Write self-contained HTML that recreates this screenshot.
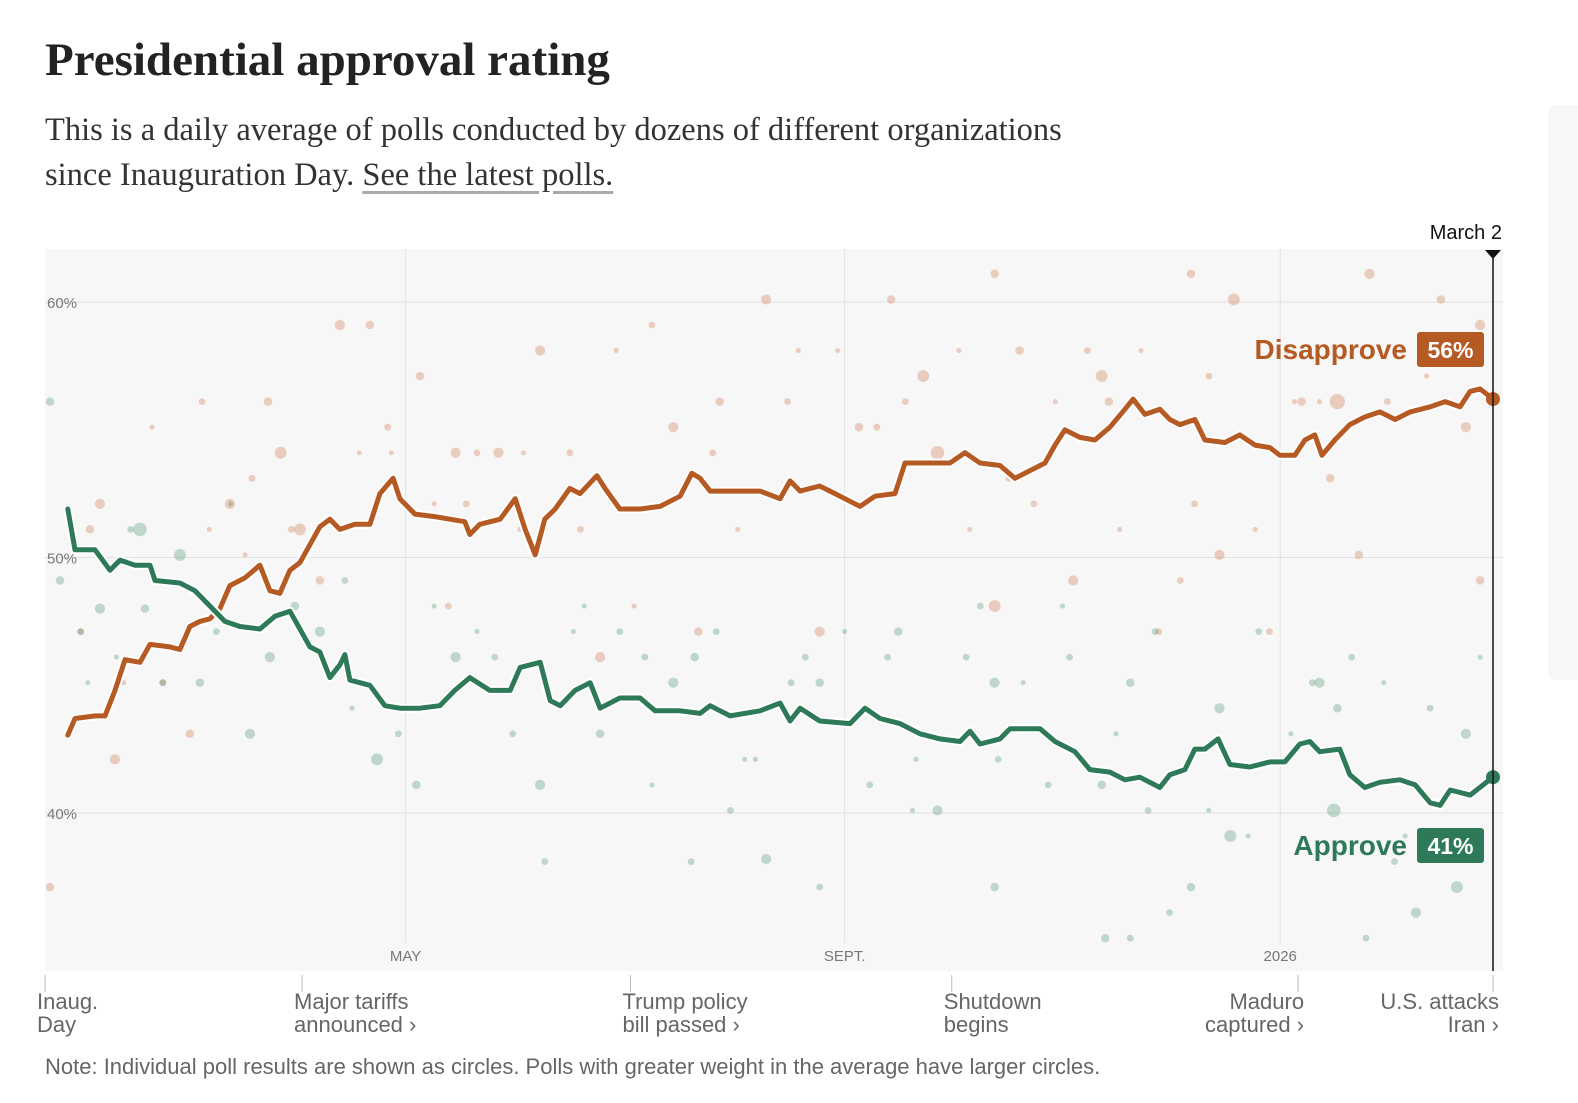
<!DOCTYPE html>
<html><head><meta charset="utf-8">
<style>
body{margin:0;width:1578px;height:1103px;background:#fff;position:relative;overflow:hidden;font-family:"Liberation Sans",sans-serif}
.t{position:absolute;margin:0}
</style></head><body>
<h1 class="t" style="left:45px;top:33px;font-family:'Liberation Serif',serif;font-weight:bold;font-size:47px;color:#222;letter-spacing:0px">Presidential approval rating</h1>
<p class="t" style="left:45px;top:108px;font-family:'Liberation Serif',serif;font-size:32.5px;line-height:45px;color:#333;width:1300px;white-space:nowrap">This is a daily average of polls conducted by dozens of different organizations<br>since Inauguration Day. <a style="color:#333;text-decoration:underline;text-decoration-color:#aaa;text-underline-offset:6px">See the latest polls.</a></p>
<div style="position:absolute;left:1548px;top:105px;width:40px;height:575px;background:#f7f7f7;border-radius:8px"></div>
<svg id="chart" width="1578" height="1103" style="position:absolute;left:0;top:0"></svg>
<p class="t" style="left:45px;top:1054px;font-size:22px;color:#666">Note: Individual poll results are shown as circles. Polls with greater weight in the average have larger circles.</p>
<script>
const approveDays=[6.4,8.4,14,18.2,21,25.2,29.4,30.8,37.8,42,46.2,50.4,54.6,60.2,64.4,68.6,71.4,74.2,77,79.8,82.6,84,85.4,91,95.2,99.4,105,110.6,114.8,119,124.6,130.3,133.1,138.7,141.5,144.3,148.5,152.7,155.5,161,166.7,170.9,177.9,183.5,186.3,191.9,200.3,205.9,208.7,211.5,217,225.5,229.7,233.9,239.5,245.1,250.7,256.3,259.1,261.9,267.5,270.3,278.7,282.9,288.5,292.7,298.3,302.5,306.7,312.3,315.1,319.3,322.1,324.9,328.6,331.9,337.5,343.1,347.3,351.5,354.3,357.1,362.7,365.5,369.7,373.9,379.5,383.8,388,390.8,393.6,399.2,405.6];
const approveValues=[51.9,50.3,50.3,49.5,49.9,49.7,49.7,49.1,49.0,48.7,48.1,47.5,47.3,47.2,47.7,47.9,47.2,46.5,46.3,45.3,45.8,46.2,45.2,45.0,44.2,44.1,44.1,44.2,44.8,45.3,44.8,44.8,45.7,45.9,44.4,44.2,44.8,45.1,44.1,44.5,44.5,44.0,44.0,43.9,44.2,43.8,44.0,44.3,43.6,44.1,43.6,43.5,44.1,43.7,43.5,43.1,42.9,42.8,43.2,42.7,42.9,43.3,43.3,42.8,42.4,41.7,41.6,41.3,41.4,41.0,41.5,41.7,42.5,42.5,42.9,41.9,41.8,42.0,42.0,42.7,42.8,42.4,42.5,41.5,41.0,41.2,41.3,41.1,40.4,40.3,40.9,40.7,41.4];
const disDays=[6.4,8.4,14,16.8,19.6,22.4,26.6,29.4,35,37.8,40.6,43.4,46.2,49,51.8,56,60.2,63,65.8,68.6,71.4,74.2,77,79.8,82.6,86.8,91,93.8,97.5,99.4,103.6,109.2,113.4,117.6,119,121.8,127.5,131.7,134.5,137.3,140,142.9,147,149.9,154.6,156.9,161,166.7,172.3,177.9,181.2,183.5,186.3,191.9,200.3,205.9,208.7,211.5,217,221.3,225.5,228.3,232.5,238.1,240.9,245.1,253.5,257.7,261.9,267.5,271.7,275.9,280.1,282.9,285.7,289.9,294.1,298.3,302.5,304.8,308.1,312.3,315.1,317.9,322.1,324.9,330.5,334.7,338.9,343.1,345.9,350.1,352.9,355.7,357.7,361.3,365.5,369.7,373.9,378.2,382.4,388,392.2,396.4,399.2,402,405.6];
const disValues=[43.05,43.7,43.8,43.8,44.8,46.0,45.9,46.6,46.5,46.4,47.3,47.5,47.6,48.0,48.9,49.2,49.7,48.7,48.6,49.5,49.8,50.5,51.2,51.5,51.1,51.3,51.3,52.5,53.1,52.3,51.7,51.6,51.5,51.4,50.9,51.3,51.5,52.3,51.1,50.1,51.5,51.9,52.7,52.5,53.2,52.7,51.9,51.9,52.0,52.4,53.3,53.1,52.6,52.6,52.6,52.3,53.0,52.6,52.8,52.5,52.2,52.0,52.4,52.5,53.7,53.7,53.7,54.1,53.7,53.6,53.1,53.4,53.7,54.4,55.0,54.7,54.6,55.1,55.8,56.2,55.6,55.8,55.4,55.2,55.4,54.6,54.5,54.8,54.4,54.3,54.0,54.0,54.6,54.8,54.0,54.6,55.2,55.5,55.7,55.4,55.7,55.9,56.1,55.9,56.5,56.6,56.2];
const approvePollDays=[26.6,37.8,15.4,28,63,77,93,104,115,138.7,176,182,202,217,239,250,266,296,304,329,332,357,361,384,395.5,398,362,321,281,266,231,155.5,192,57.4,43.4,4.2,1.4,297,304,370,378,140,181,217,315,267,10,20,33,48,70,86,99,121,131,148,161,170,188,196,209,224,236,244,258,274,287,300,311,326,340,349,366,375,388,402,12,24,52,84,109,126,151,168,199,213,243,262,285,309,337,355,381,393];
const approvePollValues=[51.1,50.1,48,48,46.1,47.1,42.1,41.1,46.1,41.1,45.1,46.1,38.2,45.1,47.1,40.1,45.1,41.1,45.1,44.1,39.1,45.1,40.1,36.1,37.1,43.1,44.1,37.1,41.1,37.1,41.1,43.1,40.1,43.1,45.1,49.1,56.1,35.1,35.1,35.1,38.1,38.1,38.1,37.1,36.1,42.1,47.1,46.1,45.1,47.1,48.1,44.1,43.1,47.1,43.1,47.1,47.1,41.1,47.1,42.1,45.1,47.1,46.1,42.1,46.1,45.1,46.1,43.1,47.1,40.1,47.1,43.1,46.1,45.1,44.1,46.1,45.1,51.1,52.1,49.1,48.1,46.1,48.1,46.1,42.1,46.1,40.1,48.1,48.1,40.1,39.1,45.1,39.1];
const approvePollWeights=[8,7,6,5,6,6,7,5,6,6,6,5,6,5,5,6,6,5,5,6,7,6,8,6,7,6,5,5,4,5,4,5,4,6,5,5,5,5,4,4,4,4,4,4,4,4,4,3,4,4,5,3,4,3,4,3,4,3,4,3,4,3,4,3,4,3,4,3,4,3,4,3,4,3,4,3,3,4,3,4,3,4,3,4,3,4,3,4,3,4,3,4,3];
const disPollDays=[82.6,91,138.7,202,246,296,333,362,398,402,66,115,127,176,250,273,321,266,371,71.4,51.8,15.4,12.6,329,288,266,318,217,155.5,183,402,19.6,40.6,1.4,343,360,352,298,228,189,237,391,105,62.5,312,113,77,368,10,22,33,46,58,88,96,109,121,133,147,160,170,194,208,222,241,256,270,283,292,307,326,339,348,357,380,394,30,44,56,69,97,118,134,150,165,187,211,233,259,277,301,322,350,376,387];
const disPollValues=[59.1,59.1,58.1,60.1,57.1,57.1,60.1,56.1,55.1,59.1,54.1,54.1,54.1,55.1,54.1,58.1,61.1,61.1,61.1,51.1,52.1,52.1,51.1,50.1,49.1,48.1,49.1,47.1,46.1,47.1,49.1,42.1,43.1,37.1,47.1,53.1,56.1,56.1,55.1,56.1,60.1,60.1,57.1,56.1,47.1,48.1,49.1,50.1,47.1,45.1,45.1,51.1,53.1,54.1,55.1,52.1,54.1,51.1,54.1,58.1,59.1,51.1,56.1,58.1,56.1,58.1,53.1,56.1,58.1,58.1,57.1,51.1,58.1,56.1,58.1,56.1,55.1,56.1,50.1,51.1,54.1,52.1,54.1,51.1,48.1,54.1,58.1,55.1,51.1,52.1,51.1,52.1,56.1,56.1,57.1];
const disPollWeights=[6,5,6,6,7,7,7,9,6,6,7,6,6,6,8,5,5,5,6,7,6,6,5,6,6,7,4,6,6,5,5,6,5,5,4,5,5,5,5,5,5,5,5,5,4,4,5,5,4,3,4,3,4,3,4,3,4,3,4,3,4,3,4,3,4,3,4,3,4,3,4,3,4,3,4,3,3,4,3,4,3,4,3,4,3,4,3,4,3,4,3,4,3,4,3];
const yTicks=[40,50,60];
const yTickLabels=['40%','50%','60%'];
const monthDays=[101,224,346];
const monthLabels=['MAY','SEPT.','2026'];
const eventDays=[0,72,164,254,351,405.6];
const eventLines=[['Inaug.','Day'],['Major tariffs','announced ›'],['Trump policy','bill passed ›'],['Shutdown','begins'],['Maduro','captured ›'],['U.S. attacks','Iran ›']];
const eventAnchor=['start','start','start','start','end','end'];

const NS='http://www.w3.org/2000/svg';
const svg=document.getElementById('chart');
const X=d=>45+d*3.57;
const Y=v=>302+(60-v)*25.55;
function mk(tag,attrs,parent){const e=document.createElementNS(NS,tag);for(const k in attrs)e.setAttribute(k,attrs[k]);(parent||svg).appendChild(e);return e;}
const bg=mk('rect',{x:45,y:249,width:1458,height:722,fill:'#f7f7f7'});


yTicks.forEach((v,i)=>{
 const l=mk('line',{x1:45,x2:1503,y1:Y(v),y2:Y(v),stroke:'#e2e2e2','stroke-width':1});
 
 
 const t=mk('text',{x:47,y:Y(v)+6,'font-size':15,fill:'#777'});t.textContent=yTickLabels[i];
 
 
});
monthDays.forEach((d,i)=>{
 const l=mk('line',{x1:X(d),x2:X(d),y1:249,y2:943,stroke:'#e2e2e2','stroke-width':1});
 
 
 const t=mk('text',{x:X(d),y:961,'font-size':15,fill:'#777','text-anchor':'middle'});t.textContent=monthLabels[i];
 
 
});
function dots(days,vals,w,col,name){
 days.forEach((d,i)=>{const c=mk('circle',{cx:X(d),cy:Y(vals[i]),r:w[i]*0.85,fill:col,'fill-opacity':0.3});
 
 });
}
dots(disPollDays,disPollValues,disPollWeights,'#c96a3a','disapprove-poll-dot');
dots(approvePollDays,approvePollValues,approvePollWeights,'#3f8a66','approve-poll-dot');
function line(days,vals,col,name){
 const d=days.map((x,i)=>(i?'L':'M')+X(x).toFixed(1)+','+Y(vals[i]).toFixed(1)).join('');
 const h=mk('path',{d:d,fill:'none',stroke:'#fff','stroke-width':9,'stroke-linejoin':'round'});
 
 
 const p=mk('path',{d:d,fill:'none',stroke:col,'stroke-width':5,'stroke-linejoin':'round','stroke-linecap':'round'});
 
 
 const n=days.length-1;
 const c=mk('circle',{cx:X(days[n]),cy:Y(vals[n]),r:7,fill:col});
 
 
}
line(disDays,disValues,'#b65a24','disapprove-line');
line(approveDays,approveValues,'#2e7a58','approve-line');
const mx=X(405.6);
const ml=mk('line',{x1:mx,x2:mx,y1:252,y2:971,stroke:'#111','stroke-width':1.5});


const tri=mk('path',{d:`M${mx-8},250L${mx+8},250L${mx},259Z`,fill:'#111'});


const md=mk('text',{x:mx+9,y:239,'font-size':20,fill:'#111','text-anchor':'end'});md.textContent='March 2';


function badge(label,val,col,y,name){
 const t=mk('text',{x:1407,y:y+10,'font-size':28,'font-weight':'bold',fill:col,'text-anchor':'end'});t.textContent=label;
 
 
 const r=mk('rect',{x:1417,y:y-17,width:67,height:35,rx:3,fill:col});
 
 
 const v=mk('text',{x:1450.5,y:y+9,'font-size':23,'font-weight':'bold',fill:'#fff','text-anchor':'middle'});v.textContent=val;
 
 
}
badge('Disapprove',Math.round(disValues[disValues.length-1])+'%','#b65a24',349,'disapprove');
badge('Approve',Math.round(approveValues[approveValues.length-1])+'%','#2e7a58',845,'approve');
eventDays.forEach((d,i)=>{
 const x=X(d);
 const tk=mk('line',{x1:x,x2:x,y1:975,y2:992,stroke:'#bbb','stroke-width':1});
 
 
 const tx=eventAnchor[i]==='start'?x-8:x+6;
 eventLines[i].forEach((s,j)=>{
  const t=mk('text',{x:tx,y:1009+j*23,'font-size':22,fill:'#666','text-anchor':eventAnchor[i]});t.textContent=s;
  
  
 });
});
</script>
</body></html>
